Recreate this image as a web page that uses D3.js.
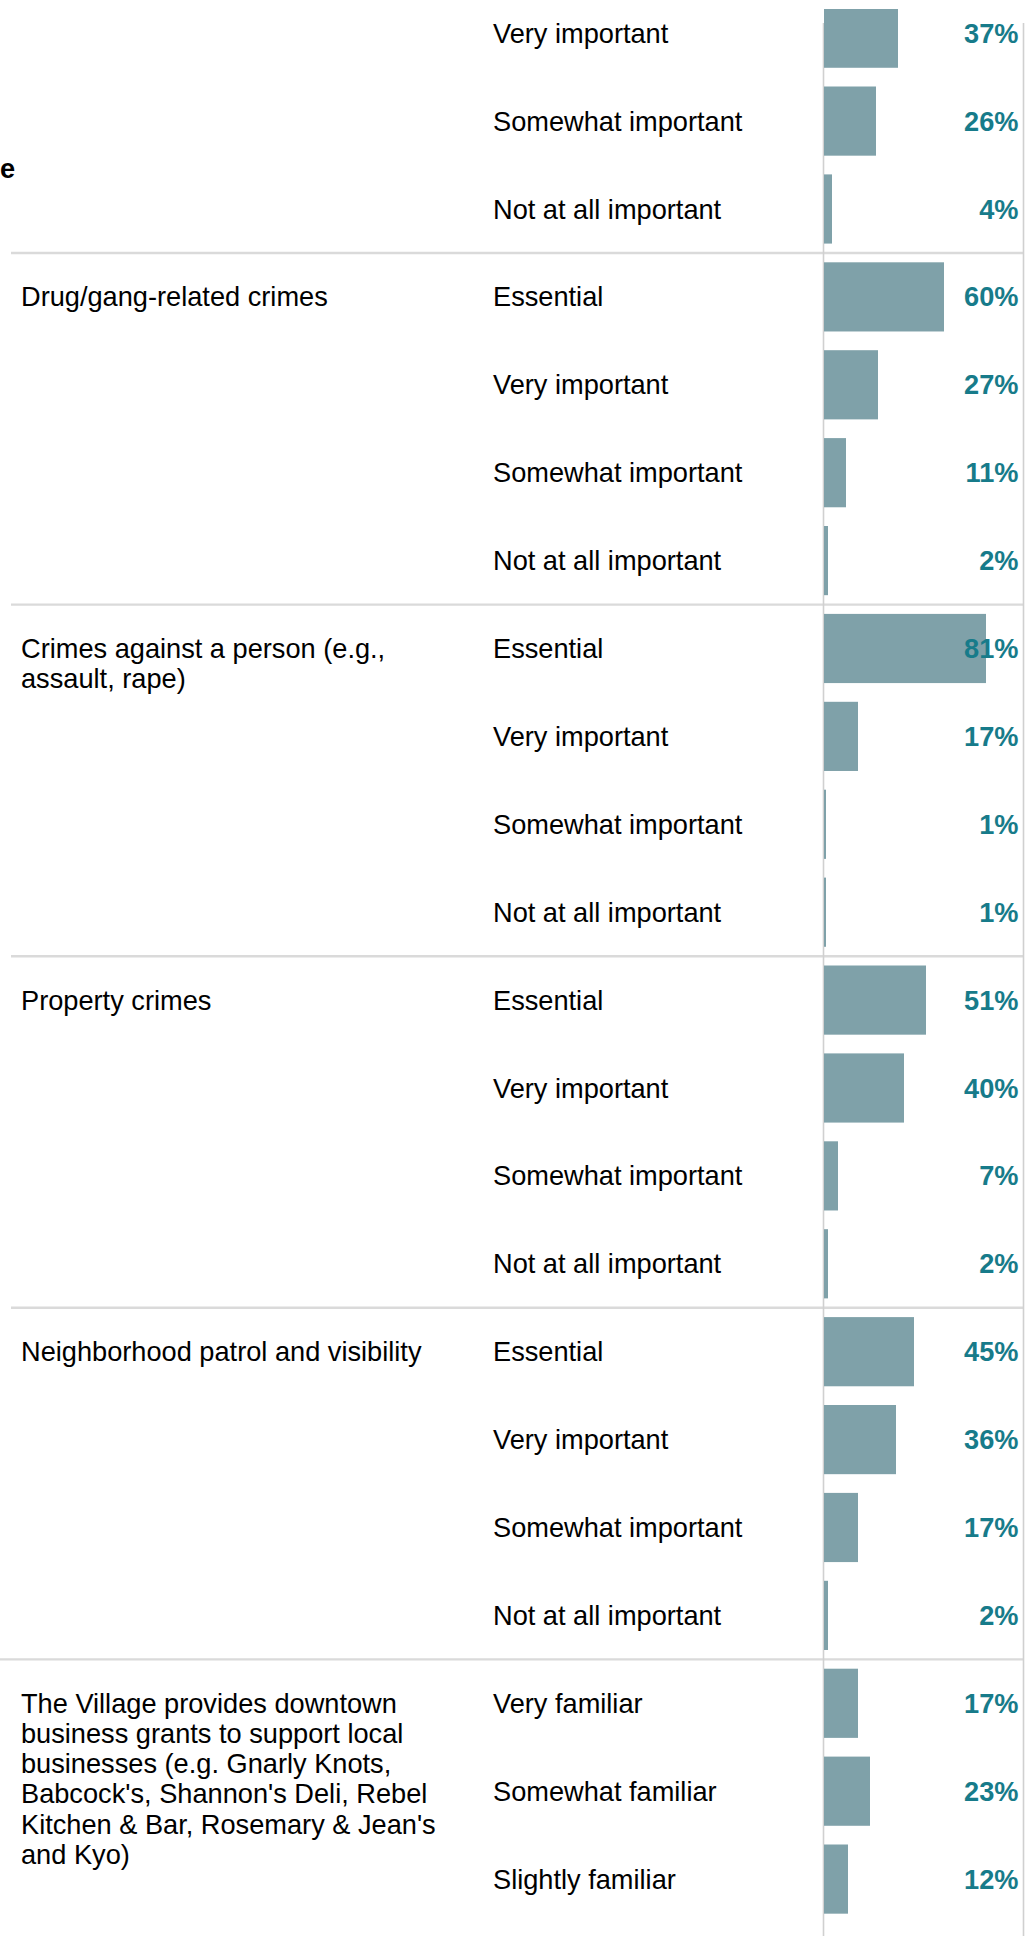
<!DOCTYPE html>
<html>
<head>
<meta charset="utf-8">
<script src="https://cdn.jsdelivr.net/npm/d3@7"></script>
<style>
  html, body { margin: 0; padding: 0; background: #ffffff; }
  svg { display: block; }
  text { font-family: "Liberation Sans", Arial, Helvetica, sans-serif; }
</style>
</head>
<body>
<div id="chart"></div>
<script>
// Survey results: one block per topic, one bar per answer option.
const groupLabels = [
  [],
  ["Drug/gang-related crimes"],
  ["Crimes against a person (e.g.,", "assault, rape)"],
  ["Property crimes"],
  ["Neighborhood patrol and visibility"],
  ["The Village provides downtown", "business grants to support local",
   "businesses (e.g. Gnarly Knots,", "Babcock's, Shannon's Deli, Rebel",
   "Kitchen & Bar, Rosemary & Jean's", "and Kyo)"]
];

const importance = ["Essential", "Very important", "Somewhat important", "Not at all important"];
const familiarity = ["Very familiar", "Somewhat familiar", "Slightly familiar"];

const groupResponses = [
  importance.slice(1),
  importance,
  importance,
  importance,
  importance,
  familiarity
];

const groupValues = [
  [37, 26, 4],
  [60, 27, 11, 2],
  [81, 17, 1, 1],
  [51, 40, 7, 2],
  [45, 36, 17, 2],
  [17, 23, 12]
];

// Flatten into rows
const rows = [];
groupResponses.forEach((resp, g) => {
  resp.forEach((r, k) => rows.push({ group: g, first: k === 0, response: r, value: groupValues[g][k] }));
});

const W = 1034, H = 1936;
const FS = 27.2;
const step = 87.9;
const top0 = 252 - 3 * step;

const svg = d3.select("#chart").append("svg")
  .attr("width", W).attr("height", H);

const x = d3.scaleLinear().domain([0, 100]).range([824, 1024]);
const y = d3.scaleBand()
  .domain(d3.range(rows.length))
  .range([top0, top0 + rows.length * step])
  .paddingInner(0).paddingOuter(0);

const barOffset = 10.3;
const barH = y.bandwidth() * 0.787;
const mid = i => y(i) + barOffset + barH / 2;

// Row separators at the start of each topic block
const sepRows = rows.map((d, i) => ({ d, i })).filter(o => o.d.first && o.i > 0);
svg.append("g").selectAll("line").data(sepRows).join("line")
  .attr("x1", o => o.d.group === groupLabels.length - 1 ? 0 : 11)
  .attr("x2", x(100))
  .attr("y1", o => y(o.i) + 1)
  .attr("y2", o => y(o.i) + 1)
  .attr("stroke", "#dadada")
  .attr("stroke-width", 2.4);

// Vertical rules at 0% and 100%
svg.append("g").selectAll("line").data([0, 100]).join("line")
  .attr("x1", d => x(d) - 0.5).attr("x2", d => x(d) - 0.5)
  .attr("y1", 23).attr("y2", H)
  .attr("stroke", "#d0d0d0")
  .attr("stroke-width", 1.6);

// Bars (clipped at the top edge of the scroll area)
svg.append("clipPath").attr("id", "barsClip")
  .append("rect").attr("x", 0).attr("y", 9).attr("width", W).attr("height", H);

svg.append("g").attr("clip-path", "url(#barsClip)")
  .selectAll("rect").data(rows).join("rect")
  .attr("x", x(0))
  .attr("y", (d, i) => y(i) + barOffset)
  .attr("width", d => x(d.value) - x(0))
  .attr("height", barH)
  .attr("fill", "#7fa1a9");

// Answer option labels
svg.append("g").selectAll("text").data(rows).join("text")
  .attr("x", 493)
  .attr("y", (d, i) => mid(i))
  .attr("dy", "0.35em")
  .attr("font-size", FS)
  .attr("fill", "#000000")
  .text(d => d.response);

// Percentage labels
svg.append("g").selectAll("text").data(rows).join("text")
  .attr("x", 1018.5)
  .attr("y", (d, i) => mid(i))
  .attr("dy", "0.35em")
  .attr("text-anchor", "end")
  .attr("font-size", FS)
  .attr("font-weight", "bold")
  .attr("fill", "#177b8a")
  .text(d => d.value + "%");

// Topic labels, aligned with the first option of each block
const firstRows = rows.map((d, i) => ({ d, i })).filter(o => o.d.first && groupLabels[o.d.group].length);
const lineH = 30.2;
svg.append("g").selectAll("text").data(firstRows).join("text")
  .attr("x", 21)
  .attr("y", o => mid(o.i))
  .attr("font-size", FS)
  .attr("fill", "#000000")
  .selectAll("tspan").data(o => groupLabels[o.d.group]).join("tspan")
  .attr("x", 21)
  .attr("dy", (t, k) => k === 0 ? "0.35em" : lineH)
  .text(t => t);

// Heading text at the left edge
svg.append("text")
  .attr("x", 0).attr("y", 178)
  .attr("font-size", FS)
  .attr("font-weight", "bold")
  .attr("fill", "#000000")
  .text("e");
</script>
</body>
</html>
